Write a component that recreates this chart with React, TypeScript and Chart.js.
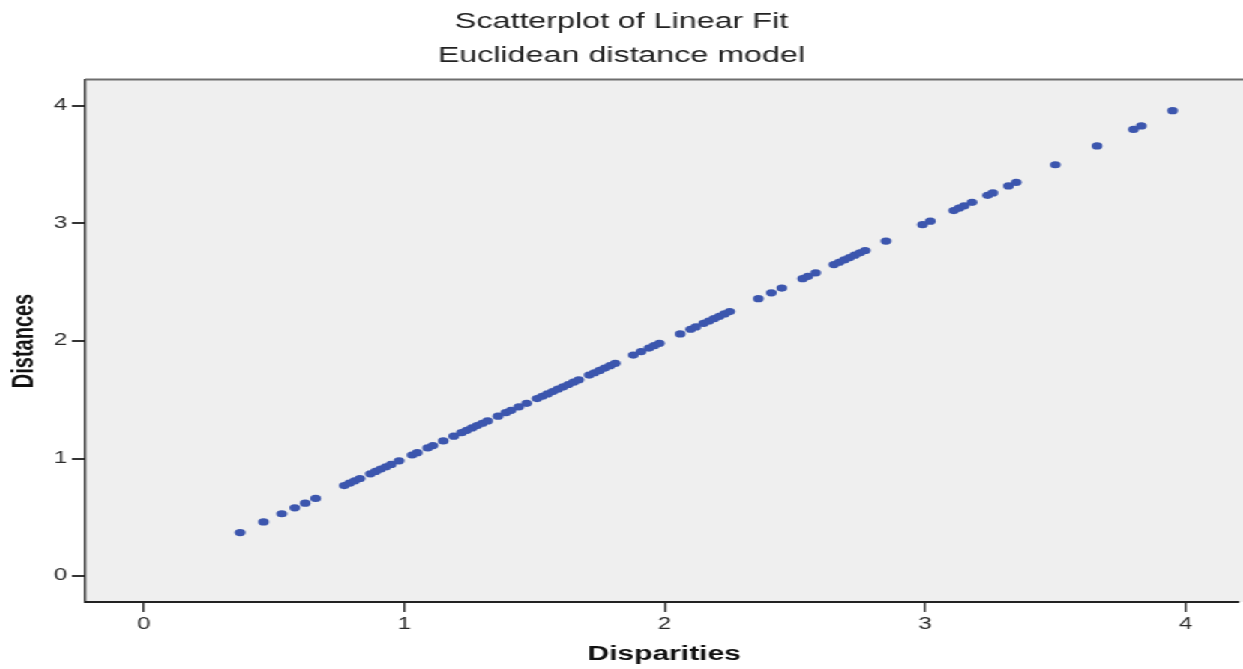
import React, { useEffect, useRef } from 'react';
import { Chart, registerables } from 'chart.js';

Chart.register(...registerables);

const TITLE_LINES = ['Scatterplot of Linear Fit', 'Euclidean distance model'];
const X_LABEL = 'Disparities';
const Y_LABEL = 'Distances';

const disparities = [
  0.37, 0.46, 0.53, 0.58, 0.62, 0.66,
  0.77, 0.79, 0.81, 0.83,
  0.87, 0.89, 0.91, 0.93, 0.95, 0.98,
  1.03, 1.05, 1.09, 1.11, 1.15, 1.19, 1.22,
  1.24, 1.26, 1.28, 1.30, 1.32, 1.36, 1.39, 1.41,
  1.44, 1.47, 1.51, 1.53, 1.55, 1.57, 1.59,
  1.61, 1.63, 1.65, 1.67, 1.71, 1.73,
  1.75, 1.77, 1.79, 1.81, 1.88, 1.91, 1.94, 1.96, 1.98,
  2.06, 2.10, 2.12, 2.15, 2.17, 2.19, 2.21, 2.23, 2.25,
  2.36, 2.41, 2.45, 2.53, 2.55, 2.58,
  2.65, 2.67, 2.69, 2.71, 2.73, 2.75, 2.77, 2.85,
  2.99, 3.02, 3.11, 3.13, 3.15, 3.18, 3.24, 3.26, 3.32, 3.35,
  3.50, 3.66, 3.80, 3.83, 3.95,
];

const distances = [
  0.37, 0.46, 0.53, 0.58, 0.62, 0.66,
  0.77, 0.79, 0.81, 0.83,
  0.87, 0.89, 0.91, 0.93, 0.95, 0.98,
  1.03, 1.05, 1.09, 1.11, 1.15, 1.19, 1.22,
  1.24, 1.26, 1.28, 1.30, 1.32, 1.36, 1.39, 1.41,
  1.44, 1.47, 1.51, 1.53, 1.55, 1.57, 1.59,
  1.61, 1.63, 1.65, 1.67, 1.71, 1.73,
  1.75, 1.77, 1.79, 1.81, 1.88, 1.91, 1.94, 1.96, 1.98,
  2.06, 2.10, 2.12, 2.15, 2.17, 2.19, 2.21, 2.23, 2.25,
  2.36, 2.41, 2.45, 2.53, 2.55, 2.58,
  2.65, 2.67, 2.69, 2.71, 2.73, 2.75, 2.77, 2.85,
  2.99, 3.02, 3.11, 3.13, 3.15, 3.18, 3.24, 3.26, 3.32, 3.35,
  3.50, 3.66, 3.80, 3.83, 3.96,
];

const X_MIN = -0.224;
const X_MAX = 4.2;
const Y_MIN = -0.221;
const Y_MAX = 4.221;
const TICK_STEP = 1;

const FAMILY = '"Liberation Sans", Arial, Helvetica, sans-serif';
const INNER_W = 829;
const H = 669;
const STRETCH = 1243 / INNER_W;

const decor = {
  id: 'decor',
  beforeDraw(chart: any) {
    const { ctx, chartArea: a } = chart;
    ctx.save();
    ctx.fillStyle = '#efefef';
    ctx.fillRect(a.left, a.top, chart.width - a.left, a.bottom - a.top);
    ctx.restore();
  },
  afterDraw(chart: any) {
    const { ctx, chartArea: a } = chart;
    ctx.save();
    ctx.strokeStyle = '#6e6e6e';
    ctx.lineWidth = 2;
    ctx.beginPath();
    ctx.moveTo(a.left, a.top - 0.5);
    ctx.lineTo(chart.width, a.top - 0.5);
    ctx.stroke();

    ctx.fillStyle = '#222';
    ctx.textAlign = 'center';
    ctx.textBaseline = 'alphabetic';
    ctx.font = `21.5px ${FAMILY}`;
    ctx.fillText(TITLE_LINES[0], chart.width / 2, 28);
    ctx.fillText(TITLE_LINES[1], chart.width / 2, 62);

    ctx.fillStyle = '#111';
    ctx.font = `bold 20px ${FAMILY}`;
    ctx.fillText(X_LABEL, (a.left + chart.width) / 2, 660);

    ctx.translate(22, (a.top + a.bottom) / 2);
    ctx.rotate(-Math.PI / 2);
    ctx.fillText(Y_LABEL, 0, 0);
    ctx.restore();
  },
};

export default function App() {
  const ref = useRef<HTMLCanvasElement>(null);

  useEffect(() => {
    if (!ref.current) return;
    const points = disparities.map((x, i) => ({ x, y: distances[i] }));
    const chart = new Chart(ref.current, {
      type: 'scatter',
      data: {
        datasets: [
          {
            label: 'Distances',
            data: points,
            pointRadius: 3.6,
            pointHoverRadius: 3.6,
            pointBackgroundColor: '#3c56ae',
            pointBorderColor: '#3c56ae',
            pointBorderWidth: 0,
          },
        ],
      },
      options: {
        responsive: false,
        devicePixelRatio: 1,
        animation: false,
        layout: { padding: { top: 80, left: 0, right: 0, bottom: 0 } },
        plugins: {
          legend: { display: false },
          title: { display: false },
          tooltip: { enabled: false },
        },
        scales: {
          x: {
            type: 'linear',
            min: X_MIN,
            max: X_MAX,
            afterFit: (s: any) => {
              s.height = 67;
              s.paddingLeft = 0;
              s.paddingRight = 0;
            },
            ticks: {
              stepSize: TICK_STEP,
              includeBounds: false,
              padding: 3,
              color: '#2a2a2a',
              maxRotation: 0,
              font: { size: 16, family: FAMILY },
            },
            grid: {
              display: true,
              drawOnChartArea: false,
              drawTicks: true,
              tickLength: 10,
              color: '#333',
              lineWidth: 1.4,
            },
            border: { display: true, color: '#222', width: 2 },
          },
          y: {
            type: 'linear',
            min: Y_MIN,
            max: Y_MAX,
            afterFit: (s: any) => {
              s.width = 57;
            },
            ticks: {
              stepSize: TICK_STEP,
              includeBounds: false,
              padding: 3,
              color: '#2a2a2a',
              font: { size: 16, family: FAMILY },
            },
            grid: {
              display: true,
              drawOnChartArea: false,
              drawTicks: true,
              tickLength: 9,
              color: '#333',
              lineWidth: 2,
            },
            border: { display: true, color: '#222', width: 1.4 },
          },
        },
      },
      plugins: [decor],
    });
    return () => chart.destroy();
  }, []);

  return (
    <div
      style={{
        position: 'absolute',
        left: 0,
        top: 0,
        width: INNER_W,
        height: H,
        transform: `scale(${STRETCH}, 1)`,
        transformOrigin: '0 0',
        background: '#fff',
      }}
    >
      <canvas ref={ref} width={INNER_W} height={H} style={{ display: 'block' }} />
    </div>
  );
}
